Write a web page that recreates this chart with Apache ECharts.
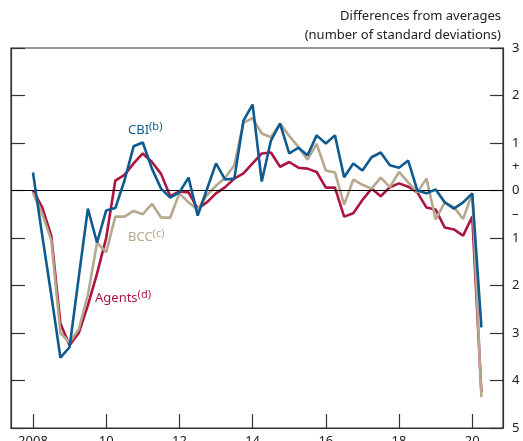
<!DOCTYPE html>
<html>
<head>
<meta charset="utf-8">
<script src="https://cdn.jsdelivr.net/npm/echarts@6/dist/echarts.min.js"></script>
<style>
  html,body{margin:0;padding:0;background:#fff;}
  #chart{width:523px;height:441px;}
</style>
</head>
<body>
<div id="chart"></div>
<script>
  // quarterly, 2008 Q1 to 2020 Q2
  let startYear = 2008
  let cbi = [0.38, -0.93, -2.2, -3.52, -3.3, -1.83, -0.38, -1.1, -0.42, -0.37,
    0.21, 0.93, 1.01, 0.46, 0.04, -0.15, -0.04, 0.27, -0.53, 0.02,
    0.57, 0.23, 0.25, 1.47, 1.81, 0.19, 1.05, 1.41, 0.78, 0.9,
    0.74, 1.16, 0.99, 1.16, 0.28, 0.57, 0.42, 0.7, 0.8, 0.53,
    0.48, 0.63, 0.0, -0.06, 0.02, -0.25, -0.38, -0.25, -0.06, -2.88]
  let bcc = [-0.05, -0.48, -1.05, -3.0, -3.2, -2.92, -2.2, -1.1, -1.3, -0.55,
    -0.55, -0.43, -0.5, -0.28, -0.57, -0.57, -0.06, -0.25, -0.4, -0.1,
    0.1, 0.27, 0.53, 1.43, 1.52, 1.2, 1.12, 1.41, 1.15, 0.92,
    0.65, 0.98, 0.42, 0.38, -0.3, 0.23, 0.12, 0.04, 0.27, 0.07,
    0.39, 0.17, -0.04, 0.25, -0.61, -0.25, -0.35, -0.6, -0.06, -4.35]
  let agents = [0, -0.35, -0.95, -2.8, -3.26, -3.0, -2.42, -1.75, -1.0, 0.21,
    0.33, 0.57, 0.78, 0.6, 0.35, -0.12, -0.02, -0.04, -0.38, -0.25,
    -0.06, 0.07, 0.25, 0.36, 0.57, 0.78, 0.8, 0.5, 0.6, 0.48,
    0.46, 0.39, 0.06, 0.06, -0.55, -0.48, -0.2, 0.04, -0.12, 0.07,
    0.15, 0.08, -0.04, -0.36, -0.4, -0.78, -0.82, -0.95, -0.55, -4.25]
  let yearTicks = [2008, 2010, 2012, 2014, 2016, 2018, 2020]
  let yTicks = [-5, -4, -3, -2, -1, 0, 1, 2, 3]

  let blue = '#0f5a8e'
  let red = '#ad1541'
  let beige = '#b6a88e'
  let font = 'Noto Sans'

  function toPoints(arr){
    return arr.map(function (v, i) { return [startYear + i / 4, v] })
  }

  let myChart = echarts.init(document.getElementById('chart'))

  let option = {
    animation: false,
    textStyle: {fontFamily: font},
    grid: {
      left: 11, right: 20, top: 48, bottom: 13,
      outerBoundsMode: 'none',
      containLabel: false,
      show: true, borderColor: '#333', borderWidth: 1.2
    },
    xAxis: {
      type: 'value',
      min: 2007.4,
      max: 2020.84,
      axisLine: {show: true, onZero: false, lineStyle: {color: '#333', width: 1.2}},
      splitLine: {show: false},
      axisTick: {inside: true, length: 14, customValues: yearTicks, lineStyle: {color: '#333', width: 1.2}},
      axisLabel: {
        customValues: yearTicks,
        margin: 7,
        fontSize: 13,
        color: '#222',
        formatter: function (v) { return v == 2008 ? '2008' : String(v).slice(2) }
      }
    },
    yAxis: [
      {
        type: 'value',
        position: 'right',
        min: -5,
        max: 3,
        axisLine: {show: true, lineStyle: {color: '#333', width: 1.2}},
        splitLine: {show: false},
        axisTick: {inside: true, length: 13, customValues: yTicks, lineStyle: {color: '#333', width: 1.2}},
        axisLabel: {
          customValues: yTicks.concat([0.5, -0.5]),
          margin: 9,
          fontSize: 13,
          color: '#222',
          formatter: function (v) {
            if (v == 0.5) return '+'
            if (v == -0.5) return '–'
            return String(Math.abs(v))
          }
        }
      },
      {
        type: 'value',
        position: 'left',
        min: -5,
        max: 3,
        axisLine: {show: true, lineStyle: {color: '#333', width: 1.2}},
        splitLine: {show: false},
        axisTick: {inside: true, length: 14, customValues: yTicks, lineStyle: {color: '#333', width: 1.2}},
        axisLabel: {show: false}
      }
    ],
    graphic: [
      {type: 'text', x: 501, y: 10, style: {text: 'Differences from averages', align: 'right', font: '13px "Noto Sans"', fill: '#222'}},
      {type: 'text', x: 501, y: 29, style: {text: '(number of standard deviations)', align: 'right', font: '13px "Noto Sans"', fill: '#222'}},
      {type: 'text', x: 128, y: 121, style: {
        text: 'CBI{s|(b)}', font: '13px "Noto Sans"', fill: blue,
        rich: {s: {fontSize: 11, fontFamily: font, fill: blue, padding: [0, 0, 7, 0]}}
      }},
      {type: 'text', x: 128, y: 228, style: {
        text: 'BCC{s|(c)}', font: '13px "Noto Sans"', fill: beige,
        rich: {s: {fontSize: 11, fontFamily: font, fill: beige, padding: [0, 0, 7, 0]}}
      }},
      {type: 'text', x: 95, y: 289, style: {
        text: 'Agents{s|(d)}', font: '13px "Noto Sans"', fill: red,
        rich: {s: {fontSize: 11, fontFamily: font, fill: red, padding: [0, 0, 7, 0]}}
      }}
    ],
    series: [
      {
        name: 'Agents',
        type: 'line',
        data: toPoints(agents),
        symbol: 'none',
        lineStyle: {color: red, width: 2.6},
        markLine: {
          silent: true,
          symbol: 'none',
          label: {show: false},
          lineStyle: {color: '#000', width: 1, type: 'solid'},
          data: [{yAxis: 0}]
        },
        z: 3
      },
      {
        name: 'BCC',
        type: 'line',
        data: toPoints(bcc),
        symbol: 'none',
        lineStyle: {color: beige, width: 2.6},
        z: 4
      },
      {
        name: 'CBI',
        type: 'line',
        data: toPoints(cbi),
        symbol: 'none',
        lineStyle: {color: blue, width: 2.6},
        z: 5
      }
    ]
  }

  myChart.setOption(option)
</script>
</body>
</html>
